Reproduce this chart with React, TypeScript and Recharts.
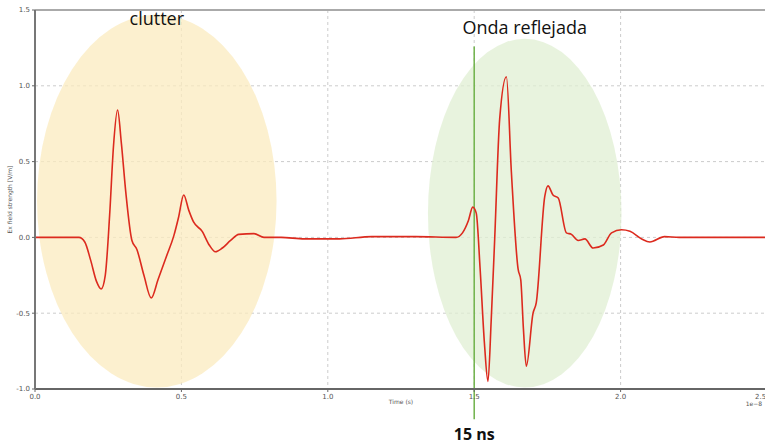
import React from "react";
import {
  LineChart,
  Line,
  XAxis,
  YAxis,
  CartesianGrid,
  ReferenceArea,
  ReferenceLine,
  Label,
} from "recharts";

// time in units of 1e-8 s
const time = [
  0, 0.15, 0.17, 0.19, 0.21, 0.226, 0.24, 0.255, 0.268, 0.282, 0.295, 0.31, 0.331, 0.348, 0.372,
  0.397, 0.42, 0.45, 0.474, 0.49, 0.508, 0.525, 0.542, 0.571, 0.595, 0.616, 0.64, 0.668, 0.696,
  0.748, 0.782, 0.84, 0.92, 1.04, 1.15, 1.3, 1.438, 1.46, 1.48, 1.495, 1.507, 1.52, 1.535, 1.547,
  1.558, 1.57, 1.587, 1.61, 1.627, 1.65, 1.659, 1.668, 1.678, 1.701, 1.712, 1.741, 1.752, 1.769,
  1.787, 1.815, 1.832, 1.855, 1.878, 1.906, 1.941, 1.969, 2.003, 2.032, 2.072, 2.1, 2.15, 2.2, 2.5,
];

// Ex field strength [V/m]
const field = [
  0, 0, -0.03, -0.15, -0.29, -0.34, -0.25, 0.15, 0.6, 0.84, 0.62, 0.3, -0.02, -0.08, -0.25,
  -0.4, -0.28, -0.12, 0.01, 0.13, 0.28, 0.18, 0.1, 0.04, -0.05, -0.095, -0.07, -0.02, 0.02,
  0.025, 0, 0, -0.01, -0.01, 0.005, 0.005, 0, 0.03, 0.11, 0.2, 0.16, -0.2, -0.7, -0.95,
  -0.55, -0.01, 0.78, 1.06, 0.43, -0.21, -0.28, -0.6, -0.85, -0.5, -0.43, 0.27, 0.34, 0.28,
  0.26, 0.03, 0.02, -0.02, -0.01, -0.07, -0.05, 0.03, 0.05, 0.04, -0.01, -0.03, 0.005, 0, 0,
];

const xTicks = [0, 0.5, 1.0, 1.5, 2.0, 2.5];
const yTicks = [-1.0, -0.5, 0.0, 0.5, 1.0, 1.5];

const data = time.map((t, i) => ({ t, v: field[i] }));

const Ellipse = (fill: string) => (props: any) => {
  const { x, y, width, height } = props;
  return (
    <ellipse
      cx={x + width / 2}
      cy={y + height / 2}
      rx={Math.abs(width) / 2}
      ry={Math.abs(height) / 2}
      fill={fill}
      fillOpacity={0.75}
    />
  );
};

const annoFont = "'Open Sans', sans-serif";
const tickStyle = { fontSize: 7, fill: "#555", fontFamily: "DejaVu Sans, sans-serif" };

export default function App() {
  return (
    <div style={{ position: "absolute", left: 0, top: 0, width: 765, height: 448, overflow: "hidden", background: "#fff" }}>
      <LineChart width={765} height={448} data={data} margin={{ top: 10, right: -2, bottom: 0, left: 0 }}>
        <CartesianGrid stroke="#ccc" strokeDasharray="3 3" />
        <ReferenceArea
          x1={0.007}
          x2={0.825}
          y1={-0.99}
          y2={1.47}
          shape={Ellipse("#fbebbf")}
          label={{ value: "clutter", position: "insideTop", offset: -2, fontSize: 18, fill: "#111", fontFamily: annoFont }}
        />
        <ReferenceArea
          x1={1.342}
          x2={2.003}
          y1={-0.99}
          y2={1.31}
          shape={Ellipse("#e0efd3")}
          label={{ value: "Onda reflejada", position: "top", offset: 5, fontSize: 18, fill: "#111", fontFamily: annoFont }}
        />
        <ReferenceLine y={1.5} stroke="#aaa" strokeWidth={2} />
        <XAxis
          dataKey="t"
          type="number"
          domain={[0, 2.5]}
          ticks={xTicks}
          tickFormatter={(v: number) => v.toFixed(1)}
          tick={tickStyle}
          tickSize={3}
          height={59}
          axisLine={{ stroke: "#666", strokeWidth: 2 }}
          tickLine={{ stroke: "#666" }}
        >
          <Label value="Time (s)" position="insideTop" offset={11} style={{ fontSize: 6, fill: "#555", fontFamily: "DejaVu Sans" }} />
        </XAxis>
        <YAxis
          type="number"
          domain={[-1, 1.5]}
          ticks={yTicks}
          tickFormatter={(v: number) => v.toFixed(1)}
          tick={tickStyle}
          tickSize={3}
          width={35}
          axisLine={{ stroke: "#777", strokeWidth: 2 }}
          tickLine={{ stroke: "#666" }}
        >
          <Label
            value="Ex field strength [V/m]"
            angle={-90}
            position="insideLeft"
            offset={10}
            style={{ fontSize: 6, fill: "#555", fontFamily: "DejaVu Sans", textAnchor: "middle" }}
          />
        </YAxis>
        <ReferenceLine
          segment={[{ x: 1.5, y: 1.26 }, { x: 1.5, y: -1.2 }]}
          ifOverflow="visible"
          stroke="#6fb24a"
          strokeWidth={1.5}
          label={{ value: "15 ns", position: "bottom", offset: 9, fontSize: 16, fontWeight: 700, fill: "#111", fontFamily: annoFont }}
        />
        <Line
          type="monotone"
          dataKey="v"
          stroke="#dc2a1e"
          strokeWidth={1.6}
          dot={false}
          isAnimationActive={false}
        />
        <ReferenceArea x1={2.44} x2={2.47} y1={-1} y2={-1} ifOverflow="visible" stroke="none" fill="none"
          label={{ value: "1e\u22128", position: "bottom", offset: 13, fontSize: 6, fill: "#555", fontFamily: "DejaVu Sans" }} />
      </LineChart>
    </div>
  );
}
